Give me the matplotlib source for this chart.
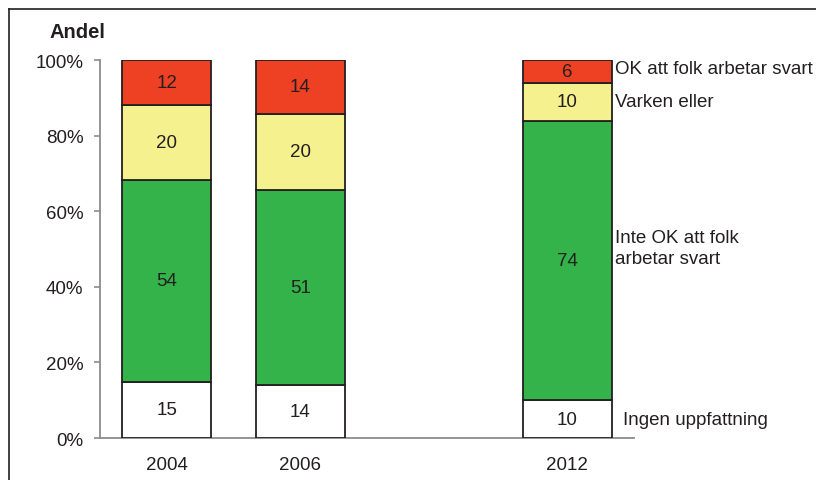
import numpy as np
import matplotlib
matplotlib.use("Agg")
import matplotlib.pyplot as plt
from matplotlib.lines import Line2D

plt.rcParams['font.family'] = ['Liberation Sans', 'DejaVu Sans']

years = ['2004', '2006', '', '2012']
positions = [0, 1, 3]
bar_years = ['2004', '2006', '2012']

# andelar i procent, nedifrån och upp
ingen = [15, 14, 10]
inte_ok = [54, 51, 74]
varken = [20, 20, 10]
ok = [12, 14, 6]

series = [ingen, inte_ok, varken, ok]
colors = ['#FFFFFF', '#33B34A', '#F5F18F', '#EE4124']
names = ['Ingen uppfattning', 'Inte OK att folk\narbetar svart', 'Varken eller',
         'OK att folk arbetar svart']

data = np.array(series, dtype=float)
share = data / data.sum(axis=0) * 100

fig = plt.figure(figsize=(8.16, 4.81), dpi=100)
ax = fig.add_axes([0.1225, 0.0873, 0.6545, 0.7857])

width = 0.67
bottom = np.zeros(len(positions))
for i in range(len(series)):
    ax.bar(positions, share[i], width, bottom=bottom, color=colors[i],
           edgecolor='#231F20', linewidth=1.3, zorder=3)
    for x, b, h, v in zip(positions, bottom, share[i], data[i]):
        ax.text(x, b + h / 2, f'{v:.0f}', ha='center', va='center',
                fontsize=13.5, color='#231F20', zorder=4)
    bottom = bottom + share[i]

# etiketter till höger om 2012-stapeln
last = len(positions) - 1
cum = np.cumsum(share[:, last])
centers = cum - share[:, last] / 2
offsets = [(8, 0), (2, 9), (2, 0), (2, 2)]
for i, name in enumerate(names):
    ax.annotate(name, xy=(positions[last] + width / 2, centers[i]),
                xytext=offsets[i], textcoords='offset points',
                ha='left', va='center', fontsize=13.5, color='#231F20',
                linespacing=1.3, annotation_clip=False)

ax.set_xlim(-0.5, 3.5)
ax.set_ylim(0, 100)
ax.set_yticks(np.arange(0, 101, 20))
ax.set_yticklabels([f'{v}%' for v in range(0, 101, 20)])
ax.set_xticks(positions)
ax.set_xticklabels(bar_years)

for s in ['top', 'right']:
    ax.spines[s].set_visible(False)
for s in ['left', 'bottom']:
    ax.spines[s].set_color('#8C8C8C')
    ax.spines[s].set_linewidth(1.3)

ax.tick_params(axis='y', length=4, width=1.2, color='#8C8C8C', pad=8,
               labelsize=13.5, labelcolor='#231F20')
ax.tick_params(axis='x', length=0, pad=13, labelsize=13.5, labelcolor='#231F20')

fig.text(50 / 816, 1 - 32 / 481, 'Andel', fontsize=14.5, fontweight='bold',
         color='#231F20', ha='left', va='center')

# ram runt figuren
fig.add_artist(Line2D([9 / 816, 1.0], [1 - 10 / 481, 1 - 10 / 481],
                      color='#231F20', linewidth=1.2, transform=fig.transFigure))
fig.add_artist(Line2D([9 / 816, 9 / 816], [0.0, 1 - 10 / 481],
                      color='#231F20', linewidth=1.2, transform=fig.transFigure))

fig.savefig('out.png', dpi=100)
